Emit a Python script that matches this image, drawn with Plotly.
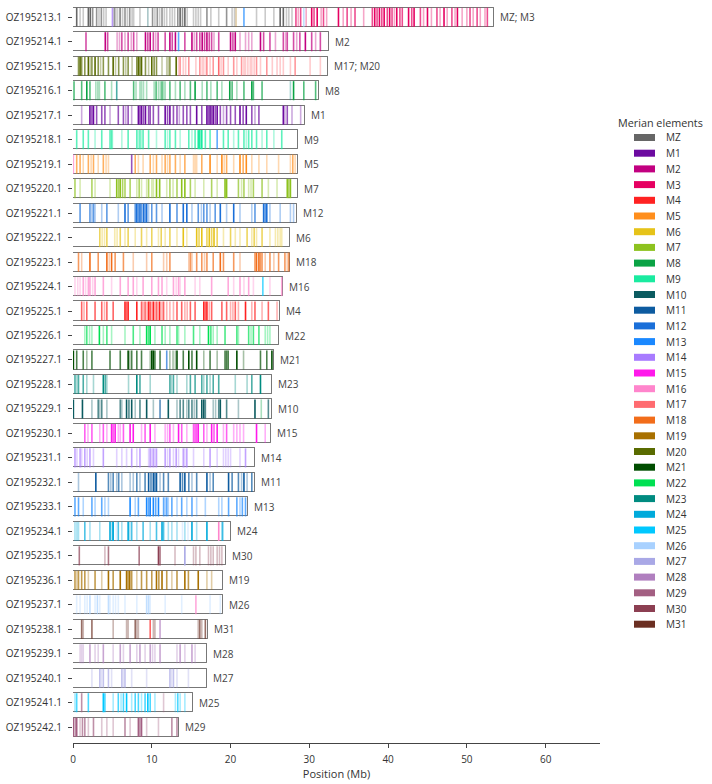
import plotly.graph_objects as go

# ---------------- data ----------------
chromosomes = ["OZ195213.1", "OZ195214.1", "OZ195215.1", "OZ195216.1", "OZ195217.1",
               "OZ195218.1", "OZ195219.1", "OZ195220.1", "OZ195221.1", "OZ195222.1",
               "OZ195223.1", "OZ195224.1", "OZ195225.1", "OZ195226.1", "OZ195227.1",
               "OZ195228.1", "OZ195229.1", "OZ195230.1", "OZ195231.1", "OZ195232.1",
               "OZ195233.1", "OZ195234.1", "OZ195235.1", "OZ195236.1", "OZ195237.1",
               "OZ195238.1", "OZ195239.1", "OZ195240.1", "OZ195241.1", "OZ195242.1"]
lengths_mb = [53.5, 32.5, 32.4, 31.2, 29.4, 28.6, 28.5, 28.5, 28.4, 27.6,
              27.5, 26.7, 26.3, 26.1, 25.5, 25.2, 25.2, 25.1, 23.1, 23.1,
              22.2, 20.1, 19.4, 19.0, 19.0, 17.1, 17.0, 17.0, 15.2, 13.5]
assigned_labels = ["MZ; M3", "M2", "M17; M20", "M8", "M1", "M9", "M5", "M7", "M12", "M6",
                   "M18", "M16", "M4", "M22", "M21", "M23", "M10", "M15", "M14", "M11",
                   "M13", "M24", "M30", "M19", "M26", "M31", "M28", "M27", "M25", "M29"]
merian_elements = ["MZ"] + ["M%d" % i for i in range(1, 32)]
merian_colors = ["#666666", "#6c0aa0", "#c20080", "#e60061", "#ff2222", "#ff8e1c", "#e6c319",
                 "#8dc21f", "#0aa345", "#1aeba0", "#0b5b60", "#0d5ba0", "#1a6fd9", "#1a88ff",
                 "#a87bff", "#ff19eb", "#ff85cc", "#ff6b70", "#f26d1a", "#a87000", "#596b00",
                 "#004d00", "#00e052", "#008b80", "#00aadb", "#00c8ff", "#a8d1ff", "#a9a8e6",
                 "#b07fbf", "#a35f82", "#8c3f52", "#6b2f22"]

# BUSCO hits per chromosome: (Merian element, [(position Mb, local density 1-3), ...])
genes_OZ195213 = [
    ("MZ", [(0.47,3),(0.9,1),(1.3,1),(1.95,3),(2.2,3),(2.5,2),(3.0,2),(3.3,1),(3.6,2),(3.9,1),(4.2,1),
            (5.1,1),(5.3,2),(5.6,1),(5.9,1),(6.0,2),(6.3,1),(6.6,2),(6.9,1),(7.2,2),(7.5,1),(7.7,1),(8.5,1),
            (10.1,2),(10.4,1),(10.7,2),(11.0,1),(11.3,2),(11.6,1),(11.9,1),(12.3,1),(12.6,1),(12.9,1),(13.3,2),
            (13.6,3),(13.9,2),(14.2,3),(14.5,1),(15.3,1),(15.6,1),(15.9,1),(16.2,1),(17.0,2),(17.5,1),(18.5,1),
            (19.5,2),(20.2,1),(20.5,1),(23.3,1),(24.4,1),(25.5,1),(26.3,3),(26.7,3),(27.1,1),(27.4,1),(27.8,1)]),
    ("M14", [(5.0,2)]), ("M10", [(9.5,1)]), ("M19", [(20.7,1)]), ("M13", [(21.7,2)]), ("M26", [(29.3,2)]),
    ("M3", [(28.3,2),(28.6,1),(28.9,2),(29.6,1),(30.3,3),(30.6,2),(31.0,3),(31.5,1),(31.8,2),(32.2,1),(33.7,3),
            (34.3,1),(34.8,2),(35.3,1),(35.8,2),(36.9,1),(38.0,2),(38.3,3),(38.6,2),(38.9,3),(39.2,2),(39.5,3),
            (39.9,2),(40.2,3),(40.5,2),(40.8,1),(41.1,3),(41.5,2),(41.8,2),(42.6,3),(43.0,2),(43.3,3),(44.1,2),
            (44.5,1),(45.0,3),(45.5,1),(46.2,2),(46.6,1),(47.1,3),(47.5,1),(48.1,2),(48.5,1),(48.8,3),(49.4,1),
            (50.0,1),(50.4,2),(50.8,1),(51.3,2),(51.7,1),(52.3,1),(52.6,2)]),
]
genes_OZ195214 = [
    ("M2", [(1.65,2),(4.1,3),(4.4,2),(5.6,1),(5.9,1),(6.2,2),(6.6,1),(7.0,2),(7.4,1),(7.7,2),(8.1,1),(9.2,3),
            (9.5,2),(9.8,3),(10.2,2),(10.5,1),(10.8,2),(11.7,2),(12.3,3),(12.6,2),(13.0,3),(14.2,2),(15.1,3),
            (15.4,1),(15.7,2),(16.1,2),(16.4,3),(16.7,2),(17.0,3),(17.3,2),(17.6,2),(17.9,1),(18.5,2),(20.0,3),
            (20.3,2),(20.6,3),(21.2,1),(21.9,1),(22.3,1),(22.7,1),(23.8,3),(24.2,2),(25.0,2),(25.7,1),(26.7,2),
            (27.0,1),(27.2,2),(28.0,2),(28.4,1),(28.8,2),(29.5,3),(30.3,2),(30.8,1),(31.4,2)]),
    ("M13", [(13.4,2)]),
]
genes_OZ195215 = [
    ("M20", [(0.7,2),(0.9,3),(1.1,2),(1.5,2),(1.95,3),(2.2,1),(2.4,2),(2.8,3),(3.2,2),(3.5,1),(3.85,2),(4.5,2),
             (5.1,3),(5.4,1),(5.8,2),(6.4,2),(6.7,1),(7.0,2),(7.5,1),(8.1,2),(8.3,3),(8.5,2),(8.7,3),(9.2,2),
             (9.6,1),(10.0,3),(10.3,2),(10.6,2),(11.3,1),(11.9,1),(12.1,1),(12.3,2),(13.1,3)]),
    ("M17", [(13.4,1),(13.6,2),(14.0,1),(14.3,1),(14.7,2),(15.6,1),(16.1,2),(16.4,1),(16.6,1),(16.9,1),(17.0,2),
             (17.4,1),(17.8,2),(18.5,3),(18.8,1),(19.1,2),(19.7,1),(20.4,2),(20.8,1),(21.4,2),(21.7,1),(21.9,1),
             (22.2,1),(22.5,1),(22.7,1),(23.0,1),(23.3,2),(23.8,1),(24.6,2),(25.3,1),(25.9,1),(26.3,1),(26.7,1),
             (27.6,1),(28.2,2),(30.1,1),(31.4,1)]),
]
genes_OZ195216 = [
    ("M8", [(0.13,2),(1.1,2),(1.75,3),(2.15,2),(2.9,1),(3.15,1),(3.35,1),(4.05,2),(4.9,1),(7.7,2),(8.0,1),(8.5,1),
            (8.7,1),(8.95,1),(9.35,1),(10.3,1),(10.55,2),(10.85,1),(11.1,1),(11.3,2),(11.5,1),(11.7,1),(12.3,2),
            (13.0,1),(13.6,2),(14.2,1),(14.9,2),(15.5,3),(16.4,1),(17.0,2),(17.5,1),(18.3,2),(18.9,1),(19.9,3),
            (20.2,2),(20.8,1),(21.7,2),(22.7,3),(22.9,2),(24.0,2),(28.0,3),(29.3,2),(30.8,2)]),
    ("M23", [(5.55,2),(27.6,1)]),
]
genes_OZ195217 = [
    ("M1", [(1.1,1),(2.15,3),(2.4,2),(2.6,3),(3.0,2),(3.65,2),(4.05,2),(4.7,1),(5.75,2),(6.4,2),(6.7,1),(7.0,2),
            (7.45,1),(8.3,3),(8.5,2),(8.7,3),(8.95,2),(9.2,3),(9.6,2),(9.8,2),(10.2,2),(10.85,2),(11.7,3),(12.0,2),
            (12.3,3),(12.75,2),(13.2,2),(13.5,1),(14.0,2),(14.45,2),(14.9,2),(15.7,3),(16.35,2),(17.0,3),(17.2,2),
            (17.4,3),(17.6,2),(17.8,3),(18.05,2),(18.3,3),(18.7,2),(19.1,1),(19.5,2),(20.0,2),(20.6,2),(21.2,3),
            (21.6,2),(22.0,3),(22.7,2),(23.1,1),(23.6,2),(26.7,3),(26.9,1),(27.2,2),(27.8,1),(28.9,1)]),
]
genes_OZ195218 = [
    ("M9", [(0.47,2),(1.3,2),(1.95,2),(2.8,1),(3.65,2),(4.7,2),(4.9,2),(5.0,1),(6.2,1),(7.0,2),(8.1,2),(8.3,1),
            (8.5,2),(8.7,1),(8.9,2),(9.6,2),(10.6,1),(11.7,2),(12.0,1),(12.3,2),(13.0,2),(13.6,1),(14.7,2),(15.1,1),
            (15.5,2),(15.9,3),(16.1,3),(16.35,3),(16.8,2),(17.4,2),(19.1,2),(19.7,2),(20.4,1),(21.0,2),(21.7,2),
            (22.0,1),(22.3,2),(22.7,2),(23.3,2),(24.0,1),(24.6,2),(25.5,1),(26.5,2)]),
    ("M13", [(18.3,2)]),
]
genes_OZ195219 = [
    ("M5", [(0.47,2),(0.9,2),(1.3,1),(1.95,2),(2.3,1),(2.6,2),(3.2,1),(3.85,2),(4.2,1),(4.5,1),(7.9,2),(8.3,1),
            (8.9,1),(9.8,2),(10.2,1),(10.6,2),(11.3,1),(11.7,2),(12.0,1),(12.3,2),(13.0,2),(13.6,1),(14.2,2),
            (15.3,1),(15.5,1),(15.7,1),(16.35,2),(17.4,3),(18.3,1),(18.9,3),(19.2,1),(19.5,2),(20.4,1),(21.2,3),
            (21.6,2),(22.0,3),(22.7,1),(23.6,1),(24.6,1),(26.1,1),(27.6,1),(27.9,2),(28.2,1)]),
    ("M16", [(0.05,2)]), ("M1", [(7.45,2)]),
]
genes_OZ195220 = [
    ("M7", [(0.25,2),(0.9,1),(2.4,2),(2.8,1),(4.7,1),(5.55,3),(5.8,2),(6.0,3),(6.3,2),(6.6,2),(7.25,2),(8.1,1),
            (8.4,2),(8.7,1),(9.35,1),(9.6,2),(10.0,1),(10.2,1),(10.6,3),(11.0,3),(11.9,1),(12.3,2),(12.7,1),
            (13.2,2),(13.8,3),(14.2,3),(14.9,2),(15.5,1),(16.6,1),(17.6,2),(18.3,1),(19.3,3),(19.5,3),(21.0,2),
            (21.4,1),(21.7,2),(22.3,1),(22.6,1),(22.9,2),(24.0,2),(24.8,1),(25.9,1),(27.2,3),(27.4,2),(27.6,3)]),
]
genes_OZ195221 = [
    ("M12", [(0.9,2),(2.15,2),(2.4,1),(2.6,2),(2.8,1),(3.65,1),(4.3,2),(5.75,1),(6.6,3),(7.0,2),(7.9,2),(8.1,3),
             (8.3,2),(8.5,3),(8.7,2),(8.95,3),(9.15,2),(9.35,3),(9.6,1),(10.0,2),(10.6,2),(11.3,1),(12.3,3),
             (13.2,2),(14.0,3),(14.45,3),(15.1,1),(15.9,2),(16.3,1),(16.6,2),(17.0,2),(17.4,1),(18.05,2),(18.7,3),
             (19.5,1),(20.4,3),(21.2,1),(22.7,1),(23.1,2),(24.2,3),(24.4,2),(24.6,3),(25.0,1),(26.3,1),(27.6,1),
             (28.0,1)]),
]
genes_OZ195222 = [
    ("M6", [(3.4,2),(3.7,1),(4.0,1),(4.3,2),(5.3,1),(5.6,1),(6.0,2),(6.6,1),(7.0,2),(7.9,1),(8.7,2),(9.35,1),
            (10.0,2),(10.85,1),(11.2,2),(11.7,1),(12.3,2),(13.2,1),(14.0,3),(14.45,1),(15.7,3),(16.0,2),(16.35,3),
            (17.0,2),(17.3,3),(17.6,2),(17.9,3),(18.3,2),(19.1,1),(20.0,2),(20.6,1),(21.2,1),(22.1,2),(22.7,1),
            (23.0,2),(23.3,1),(24.0,2),(25.0,1),(25.7,1),(26.0,1),(26.3,1),(26.5,1)]),
]
genes_OZ195223 = [
    ("M18", [(0.7,2),(1.1,1),(2.15,3),(3.2,2),(4.3,3),(4.6,1),(4.9,3),(5.35,2),(6.4,2),(7.65,1),(9.35,1),(10.0,2),
             (11.5,1),(11.9,1),(12.3,2),(14.7,1),(14.9,2),(15.1,1),(15.7,2),(16.35,2),(16.7,1),(17.0,2),(17.8,2),
             (18.7,3),(19.1,2),(20.4,2),(21.2,1),(23.1,2),(23.3,3),(23.6,3),(23.8,2),(24.0,2),(24.4,1),(25.0,2),
             (25.5,1),(26.1,2),(26.9,2),(27.2,1),(27.4,2)]),
]
genes_OZ195224 = [
    ("M16", [(0.25,1),(0.6,1),(0.9,1),(1.3,2),(1.6,1),(1.95,2),(2.15,2),(2.5,1),(2.8,2),(3.85,2),(4.9,1),(6.0,2),
             (7.0,2),(7.65,2),(8.1,1),(8.9,2),(10.0,2),(10.85,2),(11.3,2),(11.9,1),(12.75,2),(13.1,1),(13.4,2),
             (13.6,1),(14.2,2),(15.5,1),(16.1,1),(17.6,2),(19.7,2),(20.4,1),(21.2,2),(21.7,1),(22.3,2),(22.9,1),
             (25.0,1),(26.5,2)]),
    ("M25", [(24.1,2)]),
]
genes_OZ195225 = [
    ("M4", [(1.1,2),(1.4,1),(1.75,2),(2.8,2),(3.65,2),(4.0,1),(4.3,2),(5.1,2),(6.6,3),(6.8,2),(7.0,3),(8.1,3),
            (8.7,2),(8.9,1),(9.15,2),(9.4,1),(9.6,3),(9.8,2),(10.0,1),(10.2,3),(10.4,1),(10.6,2),(10.8,1),(11.0,3),
            (11.3,1),(11.5,2),(11.9,1),(12.3,1),(12.75,1),(13.2,2),(13.8,2),(14.2,1),(14.5,1),(14.9,2),(15.5,2),
            (16.6,3),(16.8,2),(17.0,3),(17.3,1),(17.6,2),(18.9,2),(19.5,2),(20.0,1),(20.3,1),(20.6,2),(21.0,1),
            (21.9,3),(22.7,1),(23.1,2),(24.0,1),(24.8,2),(25.9,1)]),
]
genes_OZ195226 = [
    ("M22", [(1.5,1),(1.75,2),(2.1,1),(2.4,1),(3.35,3),(3.85,1),(4.3,2),(4.9,1),(6.6,1),(7.65,2),(8.5,1),(9.35,3),
             (9.6,2),(9.8,3),(10.4,1),(11.3,2),(11.7,1),(12.3,1),(13.2,2),(13.4,1),(14.2,1),(15.3,2),(16.1,1),
             (17.2,3),(17.5,2),(17.8,1),(18.3,1),(19.3,2),(20.8,2),(21.0,1),(22.3,2),(22.6,1),(22.9,2),(23.6,2),
             (24.4,1),(24.7,1),(25.0,1)]),
]
genes_OZ195227 = [
    ("M21", [(0.05,3),(0.47,2),(1.3,2),(1.75,1),(2.4,2),(4.7,2),(6.0,2),(7.0,3),(7.2,1),(7.45,2),(8.1,2),(8.7,2),
             (9.8,1),(10.0,3),(10.2,3),(10.4,2),(11.05,2),(12.3,1),(12.7,1),(13.0,1),(13.2,3),(14.0,2),(14.7,3),
             (15.1,2),(15.7,3),(16.6,1),(17.4,2),(18.3,1),(19.3,2),(19.5,2),(19.7,2),(20.8,3),(21.65,1),(23.8,2),
             (24.6,2),(25.25,3)]),
    ("M12", [(11.9,2)]),
]
genes_OZ195228 = [
    ("M23", [(0.25,2),(0.5,1),(0.7,2),(1.3,2),(1.75,1),(2.6,1),(3.85,3),(4.1,2),(4.3,1),(7.05,1),(8.1,3),(8.5,2),
             (9.8,1),(12.3,2),(12.5,1),(12.75,2),(13.2,1),(14.45,1),(14.9,2),(15.5,2),(16.35,2),(16.6,1),(17.0,2),
             (17.4,1),(17.8,2),(18.5,2),(20.6,1),(22.1,1),(22.7,2),(23.8,3)]),
]
genes_OZ195229 = [
    ("M10", [(0.05,3),(1.2,3),(2.4,1),(3.2,2),(3.4,1),(3.65,2),(4.3,1),(6.0,2),(6.2,1),(6.8,3),(7.1,2),(7.45,3),
             (7.9,1),(8.5,2),(9.35,3),(10.2,1),(12.1,3),(13.2,1),(13.6,2),(14.0,2),(14.45,1),(14.7,2),(15.1,2),
             (15.4,1),(15.7,2),(16.35,3),(16.6,3),(16.8,2),(17.8,1),(18.1,1),(18.5,2),(18.7,3),(19.5,2),(21.0,1),
             (23.1,3),(24.8,2)]),
    ("M11", [(11.05,2)]), ("M8", [(23.9,1)]),
]
genes_OZ195230 = [
    ("M15", [(1.5,2),(1.9,1),(2.4,2),(3.4,1),(3.85,2),(4.3,1),(4.9,3),(5.1,2),(5.35,3),(5.75,1),(6.0,1),(6.4,2),
             (7.25,3),(7.65,3),(8.7,1),(9.15,2),(9.8,3),(10.4,1),(11.7,1),(12.0,1),(12.3,2),(12.75,1),(13.4,3),
             (13.8,2),(14.45,1),(15.3,2),(15.5,2),(15.7,2),(15.9,3),(16.6,2),(17.0,1),(17.6,3),(17.9,2),(18.3,3),
             (19.1,1),(19.5,2),(20.4,1),(20.8,1),(21.2,1),(21.65,1),(23.3,3),(24.4,1)]),
]
genes_OZ195231 = [
    ("M14", [(0.25,2),(0.5,1),(0.9,2),(1.1,1),(1.5,2),(1.8,1),(2.15,2),(2.6,1),(3.85,2),(5.55,1),(6.2,1),(6.8,1),
             (7.45,2),(8.1,1),(8.5,2),(9.6,1),(9.8,2),(10.0,1),(10.2,2),(10.4,1),(10.6,2),(11.7,2),(12.0,1),
             (12.3,2),(12.75,1),(13.1,2),(13.4,1),(14.0,2),(14.2,1),(14.45,2),(15.3,1),(16.6,1),(17.4,2),(18.3,1),
             (19.1,1),(19.4,1),(19.7,1),(20.0,1),(21.2,1),(21.9,2)]),
]
genes_OZ195232 = [
    ("M11", [(0.7,1),(2.9,3),(4.5,2),(4.8,1),(5.1,2),(5.55,1),(5.8,2),(6.2,1),(7.25,1),(7.65,1),(8.1,2),(8.5,1),
             (9.15,2),(9.6,3),(9.9,2),(10.2,3),(10.4,2),(10.6,3),(11.05,1),(11.5,2),(12.1,2),(13.6,3),(13.9,2),
             (14.2,3),(14.7,2),(15.1,1),(15.7,2),(17.0,3),(17.4,1),(17.8,2),(19.75,3),(20.2,2),(21.0,2),(21.4,1),
             (21.7,3),(22.1,1),(22.7,2)]),
]
genes_OZ195233 = [
    ("M13", [(0.25,2),(0.7,2),(1.3,1),(2.4,2),(2.8,1),(3.65,2),(4.05,1),(4.5,1),(7.25,3),(7.9,1),(8.3,2),(9.35,3),
             (9.6,2),(9.8,3),(10.2,3),(10.5,2),(10.85,3),(11.5,2),(11.7,1),(11.9,2),(12.1,1),(12.55,2),(13.2,1),
             (13.8,2),(14.45,1),(15.1,2),(15.7,1),(16.8,1),(18.5,1),(18.9,1),(19.75,2),(20.8,2),(21.2,1),(21.5,2),
             (21.9,2)]),
]
genes_OZ195234 = [
    ("M24", [(0.25,1),(0.5,1),(0.7,1),(1.5,2),(2.15,1),(3.4,1),(4.7,3),(5.0,2),(5.1,3),(5.75,2),(6.2,1),(7.0,3),
             (7.2,1),(7.45,2),(8.1,1),(8.9,2),(9.8,1),(10.6,2),(11.3,3),(11.5,2),(12.1,1),(12.55,1),(13.2,1),
             (14.2,1),(15.1,3),(15.7,1),(17.0,3),(18.9,1),(19.0,2)]),
    ("M26", [(5.5,1),(13.9,1),(14.6,1)]), ("M16", [(18.5,3)]),
]
genes_OZ195235 = [
    ("M30", [(0.8,2),(4.05,1),(4.5,2),(8.4,2),(10.85,3),(11.05,2),(12.95,1),(15.3,1),(15.6,1),(16.1,1),(17.2,1),
             (17.5,1),(17.8,1),(18.3,1),(18.6,1),(18.9,1)]),
    ("M27", [(14.2,3)]),
]
genes_OZ195236 = [
    ("M19", [(0.25,2),(0.5,1),(0.7,2),(1.1,2),(1.5,2),(1.95,1),(2.8,2),(3.65,1),(4.5,3),(5.1,2),(6.0,3),(6.8,3),
             (7.0,2),(7.2,3),(7.45,2),(8.1,1),(8.7,2),(9.35,2),(10.0,2),(10.6,3),(10.9,2),(11.3,3),(11.9,2),
             (12.55,1),(13.2,2),(14.2,3),(14.65,2),(15.9,3),(17.0,1),(17.6,1)]),
]
genes_OZ195237 = [
    ("M26", [(0.47,1),(0.9,1),(1.5,1),(1.8,1),(2.15,2),(2.8,1),(3.1,2),(3.4,1),(4.5,2),(4.7,1),(5.1,1),(5.4,1),
             (5.75,1),(6.6,1),(8.1,1),(9.35,2),(9.6,2),(9.8,1),(11.7,1),(13.8,1),(17.4,1),(18.7,1)]),
    ("M16", [(15.6,2)]),
]
genes_OZ195238 = [
    ("M31", [(1.1,2),(1.3,1),(2.4,2),(5.1,1),(6.8,1),(7.0,1),(7.9,2),(8.1,1),(8.3,1),(10.2,1),(10.4,1),(15.9,1),
             (16.1,2),(16.35,1),(16.8,2)]),
    ("M4", [(9.8,2)]), ("M28", [(11.05,2)]),
]
genes_OZ195239 = [
    ("M28", [(0.9,1),(1.1,1),(1.3,1),(2.15,2),(2.8,1),(3.2,1),(3.85,2),(5.1,1),(6.0,2),(6.4,1),(7.25,2),(8.1,1),
             (8.5,2),(9.15,1),(9.8,2),(10.1,1),(10.4,1),(11.05,2),(13.2,1),(13.6,2),(14.2,1),(15.1,2),(15.5,1)]),
]
genes_OZ195240 = [
    ("M27", [(2.4,1),(3.4,2),(3.6,1),(3.85,2),(4.5,2),(4.9,1),(6.2,2),(6.4,1),(6.6,2),(7.45,1),(9.35,1),(12.3,2),
             (12.5,1),(12.75,2),(13.2,1),(14.65,1)]),
]
genes_OZ195241 = [
    ("M25", [(0.25,1),(0.47,2),(1.95,2),(3.85,3),(4.05,2),(5.1,1),(5.75,2),(6.1,1),(6.4,2),(6.8,3),(7.45,1),
             (7.9,2),(8.3,2),(8.7,1),(9.15,2),(9.5,3),(9.8,2),(10.4,1),(13.0,1),(13.3,2),(13.6,1),(14.2,1)]),
    ("M29", [(1.1,2),(11.5,1)]),
]
genes_OZ195242 = [
    ("M29", [(0.05,3),(0.3,2),(0.47,3),(0.9,1),(1.2,2),(1.5,2),(1.95,1),(2.6,2),(3.65,1),(4.3,1),(5.1,1),(6.6,2),
             (7.25,1),(8.3,3),(8.5,2),(8.7,3),(9.35,1),(10.85,1),(12.55,2),(13.2,2)]),
]
gene_tables = [genes_OZ195213, genes_OZ195214, genes_OZ195215, genes_OZ195216, genes_OZ195217,
               genes_OZ195218, genes_OZ195219, genes_OZ195220, genes_OZ195221, genes_OZ195222,
               genes_OZ195223, genes_OZ195224, genes_OZ195225, genes_OZ195226, genes_OZ195227,
               genes_OZ195228, genes_OZ195229, genes_OZ195230, genes_OZ195231, genes_OZ195232,
               genes_OZ195233, genes_OZ195234, genes_OZ195235, genes_OZ195236, genes_OZ195237,
               genes_OZ195238, genes_OZ195239, genes_OZ195240, genes_OZ195241, genes_OZ195242]

# ---------------- figure ----------------
FONT = "Open Sans, Noto Sans, sans-serif"
TXT = "#333333"
HALF = 0.39
color_of = dict(zip(merian_elements, merian_colors))
alpha_of = {1: 0.35, 2: 0.7, 3: 1.0}


def rgba(hexc, a):
    h = hexc.lstrip("#")
    return "rgba(%d,%d,%d,%.2f)" % (int(h[0:2], 16), int(h[2:4], 16), int(h[4:6], 16), a)


rows = list(range(len(chromosomes)))
fig = go.Figure()

# chromosome boxes (white fill)
fig.add_trace(go.Bar(y=rows, x=lengths_mb, base=0, orientation="h", width=2 * HALF,
                     marker=dict(color="white", line=dict(color="#777777", width=1)),
                     showlegend=False, hoverinfo="skip"))

segs = {}
for r, table in enumerate(gene_tables):
    for elem, hits in table:
        for pos, w in hits:
            segs.setdefault((w, elem), []).append((r, pos))

for (w, elem) in sorted(segs.keys(), key=lambda k: (k[0], merian_elements.index(k[1]))):
    xs, ys = [], []
    for r, pos in segs[(w, elem)]:
        xs += [pos, pos, None]
        ys += [r - HALF, r + HALF, None]
    fig.add_trace(go.Scatter(x=xs, y=ys, mode="lines",
                             line=dict(color=rgba(color_of[elem], alpha_of[w]), width=1.6),
                             showlegend=False, hoverinfo="skip"))

# box outlines on top
fig.add_trace(go.Bar(y=rows, x=lengths_mb, base=0, orientation="h", width=2 * HALF,
                     marker=dict(color="rgba(0,0,0,0)", line=dict(color="#777777", width=1)),
                     showlegend=False, hoverinfo="skip"))

annotations = []
for r, (L, lab) in enumerate(zip(lengths_mb, assigned_labels)):
    annotations.append(dict(x=L, y=r, xref="x", yref="y", text=lab, showarrow=False,
                            xanchor="left", yanchor="middle", xshift=4,
                            font=dict(family=FONT, size=10, color="#444444")))

# manual legend
ML, MR, MT, MB = 73, 112, 5, 41
W, H = 712, 784
pw, ph = W - ML - MR, H - MT - MB


def px(xp):
    return (xp - ML) / pw


def py(yp):
    return (H - MB - yp) / ph


shapes = []
annotations.append(dict(x=px(660), y=py(122), xref="paper", yref="paper", text="Merian elements",
                        showarrow=False, xanchor="center", yanchor="middle",
                        font=dict(family=FONT, size=10.8, color=TXT)))
for i, (elem, col) in enumerate(zip(merian_elements, merian_colors)):
    yc = 137.5 + i * 15.7
    shapes.append(dict(type="rect", xref="paper", yref="paper", x0=px(634), x1=px(655),
                       y0=py(yc + 3.5), y1=py(yc - 3.5), fillcolor=col,
                       line=dict(width=0)))
    annotations.append(dict(x=px(664), y=py(yc), xref="paper", yref="paper", text=elem,
                            showarrow=False, xanchor="left", yanchor="middle",
                            font=dict(family=FONT, size=10, color=TXT)))

fig.update_layout(
    width=W, height=H, barmode="overlay", bargap=0,
    margin=dict(l=ML, r=MR, t=MT, b=MB, pad=0),
    paper_bgcolor="white", plot_bgcolor="white",
    font=dict(family=FONT, size=10, color=TXT),
    showlegend=False, annotations=annotations, shapes=shapes,
    xaxis=dict(range=[0, 66.9], tickvals=[0, 10, 20, 30, 40, 50, 60], ticks="outside", ticklen=4,
               tickcolor="#444444", showline=True, linecolor="#444444", linewidth=1,
               showgrid=False, zeroline=False, ticklabelstandoff=3,
               title=dict(text="Position (Mb)", font=dict(size=11), standoff=4),
               tickfont=dict(size=10)),
    yaxis=dict(range=[29.645, -0.5], tickmode="array", tickvals=rows, ticktext=chromosomes,
               ticks="outside", ticklen=4, tickcolor="#444444", showline=False, showgrid=False,
               zeroline=False, ticklabelstandoff=4, tickfont=dict(size=10)),
)

fig.write_html("out.html")
